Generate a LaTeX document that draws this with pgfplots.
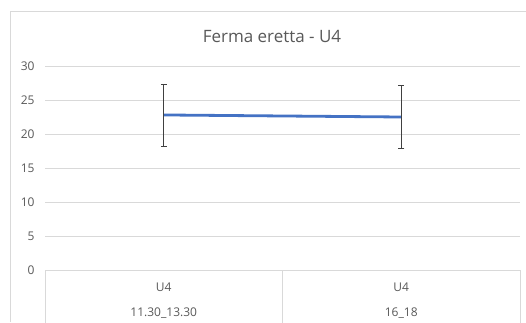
\documentclass[border=0pt]{standalone}
\usepackage{fontspec}
\setmainfont{Open Sans}
\usepackage{pgfplots}
\pgfplotsset{compat=1.18}
\definecolor{txtgray}{HTML}{595959}
\definecolor{gridgray}{HTML}{D9D9D9}
\definecolor{lineblue}{HTML}{4472C4}
\definecolor{errgray}{HTML}{404040}
\begin{document}
\begin{tikzpicture}[x=1bp,y=1bp]
\useasboundingbox (0,0) rectangle (526,322);
\fill[white] (0,0) rectangle (526,322);
\draw[gridgray, line width=0.9bp] (10,0) -- (10,310.5) -- (530,310.5);
\node[font=\fontsize{17bp}{20bp}\selectfont, text=txtgray] at (272,286) {Ferma eretta - U4};
\begin{axis}[
  at={(45bp,52bp)}, anchor=south west,
  scale only axis, width=475bp, height=204bp,
  xmin=0, xmax=2, ymin=0, ymax=30,
  ytick={0,5,10,15,20,25,30},
  xtick={0.5,1.5},
  xticklabels={{U4\\[10bp]11.30\_13.30},{U4\\[10bp]16\_18}},
  xticklabel style={align=center, anchor=north, yshift=-9.5bp, font=\fontsize{12bp}{15bp}\selectfont, text=txtgray},
  yticklabel style={font=\fontsize{12bp}{15bp}\selectfont, text=txtgray, xshift=-7bp},
  /pgf/number format/assume math mode=true,
  ymajorgrids, grid style={gridgray, line width=0.9bp},
  axis x line*=bottom, axis y line*=left,
  x axis line style={gridgray, line width=0.9bp, -},
  y axis line style={draw=none},
  major tick length=0pt,
  clip=false,
]
\addplot[lineblue, line width=2.8bp, no markers,
  error bars/.cd, y dir=both, y explicit,
  error bar style={errgray, line width=0.8bp},
  error mark options={rotate=90, errgray, line width=0.8bp, mark size=3bp}]
  coordinates {(0.5,22.8) +- (0,4.55) (1.5,22.5) +- (0,4.6)};
\draw[gridgray, line width=0.9bp] (rel axis cs:0,0) -- (rel axis cs:0,-0.3);
\draw[gridgray, line width=0.9bp] (rel axis cs:0.5,0) -- (rel axis cs:0.5,-0.3);
\draw[gridgray, line width=0.9bp] (rel axis cs:1,0) -- (rel axis cs:1,-0.3);
\end{axis}
\end{tikzpicture}
\end{document}
